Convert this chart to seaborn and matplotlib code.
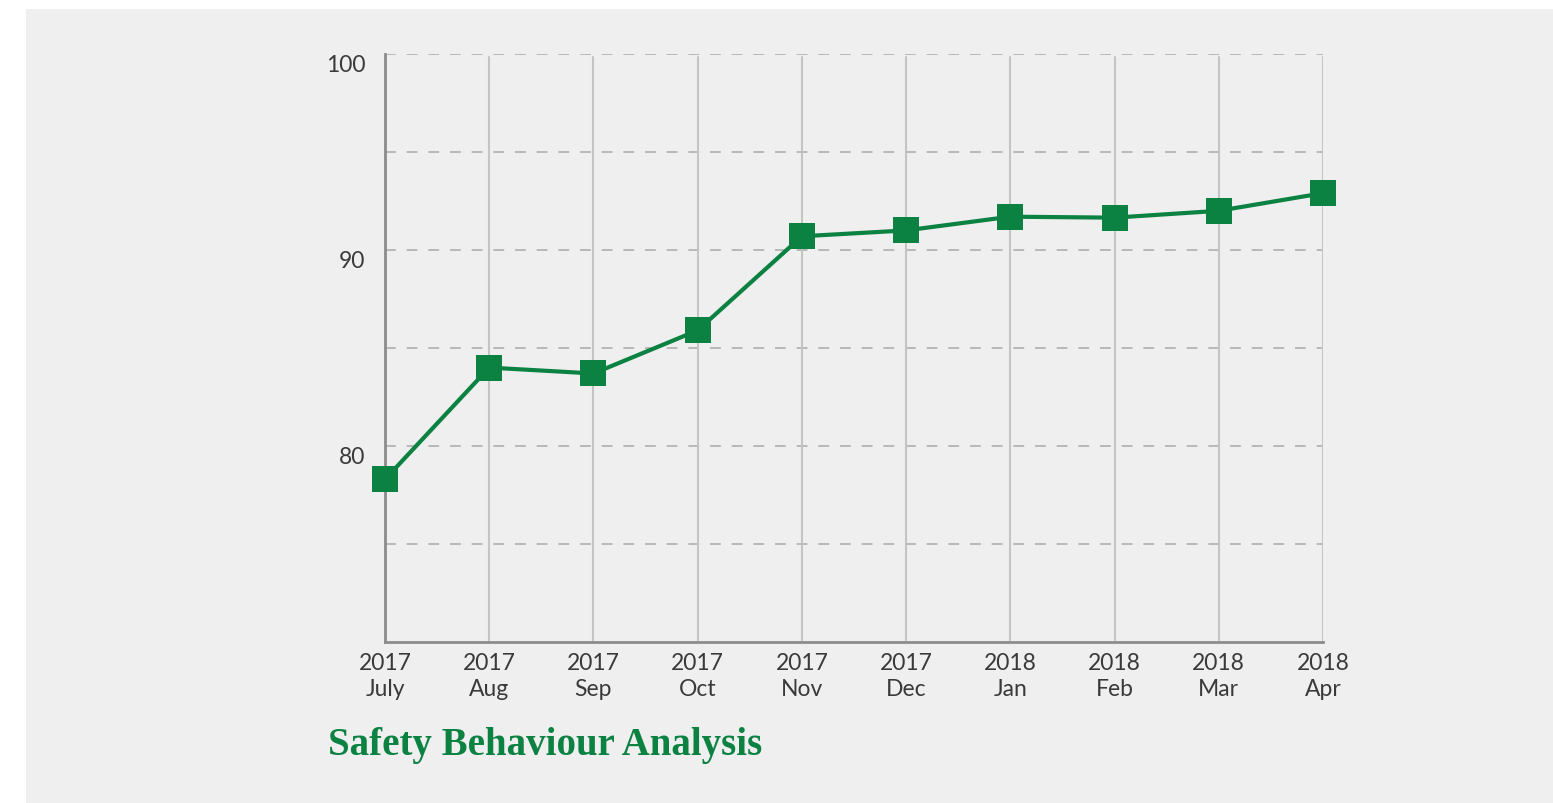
import numpy as np
import pandas as pd
import matplotlib
matplotlib.use("Agg")
import matplotlib.pyplot as plt
from matplotlib.patches import Rectangle
import seaborn as sns

years = ["2017", "2017", "2017", "2017", "2017", "2017", "2018", "2018", "2018", "2018"]
months = ["July", "Aug", "Sep", "Oct", "Nov", "Dec", "Jan", "Feb", "Mar", "Apr"]
scores = [78.3, 84.0, 83.7, 85.9, 90.7, 91.0, 91.7, 91.65, 92.0, 92.9]

df = pd.DataFrame({"pos": np.arange(len(months)), "score": scores})

sns.set_style("white")
plt.rcParams['font.family'] = ['Lato', 'DejaVu Sans']

green = '#0b8242'
bg = '#efefef'

fig = plt.figure(figsize=(15.53, 8.04), dpi=100, facecolor='white')
fig.add_artist(Rectangle((26 / 1553, -0.02), 1, 1.02 - 10 / 804, transform=fig.transFigure,
                         facecolor=bg, edgecolor='none', zorder=-10))

ax = fig.add_axes([385 / 1553, 1 - 643 / 804, (1323 - 385) / 1553, (643 - 55) / 804])
ax.set_facecolor('none')

# grid
for yv in [75, 80, 85, 90, 95, 100]:
    ax.axhline(yv, color='#b4b4b4', lw=1.3, ls=(0, (6, 6)), zorder=1)
for xv in df['pos'][1:]:
    ax.axvline(xv, color='#c4c4c4', lw=1.5, ymax=0.995, zorder=1)

sns.lineplot(data=df, x='pos', y='score', ax=ax, color=green, lw=3,
             marker='s', markersize=19, markeredgewidth=0, clip_on=False, zorder=5)

ax.set_xlim(0, len(months) - 1)
ax.set_ylim(70, 100)
ax.set_yticks([80, 90, 100])
ax.set_yticklabels(['80', '90', '100'], va='top')
ax.set_xticks(df['pos'])
ax.set_xticklabels([f"{y}\n{m}" for y, m in zip(years, months)], linespacing=1.3)
ax.tick_params(axis='both', length=0, labelsize=16.5, labelcolor='#3a3a3a')
ax.tick_params(axis='y', pad=14)
ax.tick_params(axis='x', pad=7)
ax.set_xlabel('')
ax.set_ylabel('')

sns.despine(ax=ax, top=True, right=True)
for s in ['left', 'bottom']:
    ax.spines[s].set_color('#8c8c8c')
    ax.spines[s].set_linewidth(2)

fig.text(328 / 1553, 1 - 755 / 804, 'Safety Behaviour Analysis', color=green,
         fontsize=28, fontweight='bold', family=['Liberation Serif', 'DejaVu Serif'],
         ha='left', va='baseline')

fig.savefig('out.png', dpi=100, facecolor='white')
